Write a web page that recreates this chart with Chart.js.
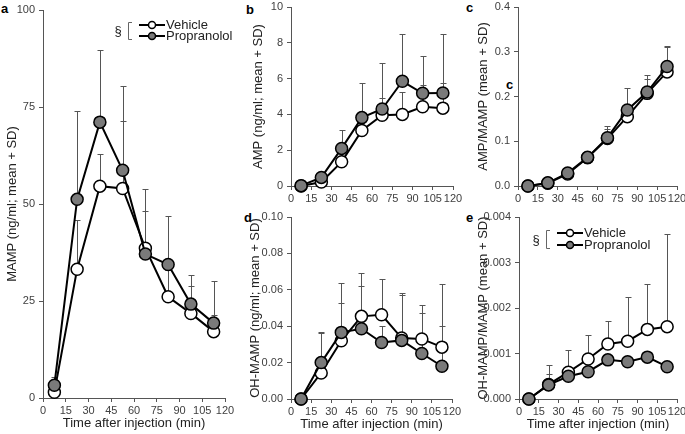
<!DOCTYPE html>
<html>
<head>
<meta charset="utf-8">
<script src="https://cdn.jsdelivr.net/npm/chart.js@4.4.0/dist/chart.umd.min.js"></script>
<style>
  html, body { margin: 0; padding: 0; background: #fff; }
  body { width: 685px; height: 434px; position: relative; overflow: hidden; font-family: "Liberation Sans", Arial, sans-serif; }
  canvas { position: absolute; }
  .letter { position: absolute; font-weight: bold; font-size: 13px; line-height: 13px; color: #000; }
</style>
</head>
<body>
<div class="letter" style="left:1px;top:2px">a</div>
<div class="letter" style="left:246px;top:3px">b</div>
<div class="letter" style="left:466px;top:1px">c</div>
<div class="letter" style="left:506px;top:78px">c</div>
<div class="letter" style="left:244px;top:211px">d</div>
<div class="letter" style="left:466px;top:211px">e</div>

<canvas id="chartA"></canvas>
<canvas id="chartB"></canvas>
<canvas id="chartC"></canvas>
<canvas id="chartD"></canvas>
<canvas id="chartE"></canvas>

<script>
(() => {
  'use strict'
  Chart.defaults.font.family = '"Liberation Sans", Arial, sans-serif';
  Chart.defaults.animation = false;

  // Sampling times (min), same for every panel
  const times = [7.5, 22.5, 37.5, 52.5, 67.5, 82.5, 97.5, 112.5];

  // a : MAMP (ng/ml) -- mean and mean + SD
  const mampVehicle = [1.5, 33.2, 54.6, 54.0, 38.6, 26.1, 21.8, 17.1];
  const mampVehicleUp = [2.5, 45.9, 63.0, 71.4, 48.2, 33.0, 28.8, 21.4];
  const mampProp = [3.3, 51.2, 71.1, 58.7, 37.1, 34.4, 24.2, 19.3];
  const mampPropUp = [5.4, 74.0, 89.6, 80.5, 53.8, 47.0, 31.8, 30.2];

  // b : AMP (ng/ml)
  const ampVehicle = [0, 0.22, 1.35, 3.1, 3.95, 4.0, 4.43, 4.35];
  const ampVehicleUp = [0, 0.3, 1.9, 3.9, 4.9, 5.25, 5.65, 5.75];
  const ampProp = [0.02, 0.48, 2.1, 3.82, 4.3, 5.85, 5.18, 5.2];
  const ampPropUp = [0.05, 0.6, 3.15, 5.78, 6.85, 8.5, 7.25, 8.5];

  // c : AMP/MAMP
  const ratioVehicle = [0, 0.006, 0.027, 0.063, 0.106, 0.155, 0.207, 0.255];
  const ratioVehicleUp = [0, 0.008, 0.031, 0.07, 0.128, 0.165, 0.24, 0.31];
  const ratioProp = [0, 0.007, 0.029, 0.064, 0.108, 0.17, 0.21, 0.267];
  const ratioPropUp = [0, 0.009, 0.033, 0.072, 0.133, 0.22, 0.248, 0.313];

  // d : OH-MAMP (ng/ml)
  const ohVehicle = [0, 0.0143, 0.032, 0.0454, 0.0463, 0.0335, 0.033, 0.0285];
  const ohVehicleUp = [0, 0.036, 0.053, 0.069, 0.066, 0.058, 0.0515, 0.063];
  const ohProp = [0, 0.02, 0.0366, 0.0386, 0.031, 0.0322, 0.025, 0.018];
  const ohPropUp = [0, 0.037, 0.064, 0.062, 0.04, 0.057, 0.047, 0.04];

  // e : OH-MAMP/MAMP
  const ohRatioVehicle = [0, 0.00032, 0.00059, 0.00088, 0.00121, 0.00127, 0.00153, 0.00159];
  const ohRatioVehicleUp = [0, 0.00075, 0.00108, 0.00141, 0.00172, 0.00224, 0.00253, 0.00363];
  const ohRatioProp = [0, 0.00031, 0.0005, 0.0006, 0.00086, 0.00082, 0.00092, 0.00071];
  const ohRatioPropUp = [0, 0.00055, 0.0006, 0.0007, 0.0009, 0.0009, 0.001, 0.0008];

  const xTitle = 'Time after injection (min)';
  const legendLabels = ['Vehicle', 'Propranolol'];
  const propFill = '#7a7a7a';

  // "mean + SD" bars, drawn under the lines
  const errorBars = {
    id: 'errorBars',
    beforeDatasetsDraw(chart) {
      const {ctx, scales: {x, y}} = chart;
      ctx.save();
      ctx.strokeStyle = '#555';
      ctx.lineWidth = 1;
      chart.data.datasets.forEach(ds => {
        ds.data.forEach((p, i) => {
          const top = ds.upper[i];
          if (top <= p.y) return;
          const px = Math.round(x.getPixelForValue(p.x)) + 0.5;
          const y1 = Math.round(y.getPixelForValue(top)) + 0.5;
          ctx.beginPath();
          ctx.moveTo(px, y.getPixelForValue(p.y));
          ctx.lineTo(px, y1);
          ctx.moveTo(px - 3, y1);
          ctx.lineTo(px + 3, y1);
          ctx.stroke();
        });
      });
      ctx.restore();
    }
  };

  // legend with the "§ [" significance bracket
  const sectionLegend = {
    id: 'sectionLegend',
    afterDraw(chart, args, opts) {
      if (!opts.show) return;
      const ctx = chart.ctx;
      const {x, y, gap} = opts;
      ctx.save();
      ctx.fillStyle = '#222';
      ctx.font = '13px "Liberation Sans", Arial, sans-serif';
      ctx.textBaseline = 'middle';
      ctx.textAlign = 'center';
      ctx.fillText('§', x - 21, y + gap / 2 + 1);
      ctx.strokeStyle = '#666';
      ctx.lineWidth = 1;
      ctx.beginPath();
      ctx.moveTo(x - 7, y - 2.5); ctx.lineTo(x - 10.5, y - 2.5);
      ctx.lineTo(x - 10.5, y + gap + 3.5); ctx.lineTo(x - 7, y + gap + 3.5);
      ctx.stroke();
      ctx.textAlign = 'left';
      legendLabels.forEach((lab, i) => {
        const ry = y + i * gap;
        ctx.strokeStyle = '#000';
        ctx.lineWidth = 2;
        ctx.beginPath();
        ctx.moveTo(x, ry); ctx.lineTo(x + 26, ry);
        ctx.stroke();
        ctx.beginPath();
        ctx.arc(x + 13, ry, 3.5, 0, Math.PI * 2);
        ctx.fillStyle = i === 0 ? '#fff' : propFill;
        ctx.fill();
        ctx.lineWidth = 1.5;
        ctx.stroke();
        ctx.fillStyle = '#222';
        ctx.fillText(lab, x + 27, ry + 0.5);
      });
      ctx.restore();
    }
  };

  const series = (label, vals, upper, fill, order) => ({
    label: label,
    data: times.map((t, i) => ({x: t, y: vals[i]})),
    upper: upper,
    order: order,
    borderColor: '#000',
    borderWidth: 2,
    pointRadius: 6,
    pointHoverRadius: 6,
    pointBackgroundColor: fill,
    pointBorderColor: '#000',
    pointBorderWidth: 1.5,
    tension: 0,
    fill: false,
    clip: false
  });

  const padL = 48, padT = 12, padR = 26, padB = 36;

  const createPanel = (id, area, p) => {
    const cv = document.getElementById(id);
    const left = area[0] - padL, top = area[1] - padT;
    cv.style.left = left + 'px';
    cv.style.top = top + 'px';
    cv.width = area[2] - area[0] + padL + padR;
    cv.height = area[3] - area[1] + padT + padB;
    const axisGrid = { drawOnChartArea: false, drawTicks: true, tickLength: 4, color: '#555' };
    const axisBorder = { color: '#555', width: 1 };
    new Chart(cv, {
      type: 'line',
      data: {
        datasets: [
          series(legendLabels[0], p.veh, p.vehUp, '#fff', 2),
          series(legendLabels[1], p.prop, p.propUp, propFill, 1)
        ]
      },
      plugins: [errorBars, sectionLegend],
      options: {
        responsive: false,
        layout: { padding: { left: 0, top: padT, right: padR, bottom: 0 } },
        scales: {
          x: {
            type: 'linear', min: 0, max: 120,
            afterFit: s => { s.height = padB; },
            ticks: { stepSize: 15, autoSkip: false, maxRotation: 0, padding: 2, color: '#404040', font: { size: 11 } },
            grid: axisGrid,
            border: axisBorder,
            title: { display: !!p.xTitle, text: xTitle, color: '#222', font: { size: 13 }, padding: { top: 0, bottom: 3 } }
          },
          y: {
            type: 'linear', min: 0, max: p.yMax,
            afterFit: s => { s.width = padL; },
            ticks: { stepSize: p.yStep, padding: 4, color: '#404040', font: { size: 11 },
              callback: v => v.toFixed(p.dec) },
            grid: axisGrid,
            border: axisBorder,
            title: { display: true, text: p.yTitle, color: '#222', font: { size: 13 },
              padding: { top: padL - p.titleGap - 7.8, bottom: 0 } }
          }
        },
        plugins: {
          legend: { display: false },
          tooltip: { enabled: false },
          sectionLegend: p.legend
            ? { show: true, x: p.legend[0] - left, y: p.legend[1] - top, gap: p.legend[2] }
            : { show: false }
        }
      }
    });
  };

  createPanel('chartA', [43, 10, 225, 398], {
    veh: mampVehicle, vehUp: mampVehicleUp, prop: mampProp, propUp: mampPropUp,
    yMax: 100, yStep: 25, dec: 0, yTitle: 'MAMP (ng/ml; mean + SD)', titleGap: 31, xTitle: true,
    legend: [139, 25, 11]
  });
  createPanel('chartB', [291, 7, 453, 186], {
    veh: ampVehicle, vehUp: ampVehicleUp, prop: ampProp, propUp: ampPropUp,
    yMax: 10, yStep: 2, dec: 0, yTitle: 'AMP (ng/ml; mean + SD)', titleGap: 33
  });
  createPanel('chartC', [518, 7, 677, 186], {
    veh: ratioVehicle, vehUp: ratioVehicleUp, prop: ratioProp, propUp: ratioPropUp,
    yMax: 0.4, yStep: 0.1, dec: 1, yTitle: 'AMP/MAMP (mean + SD)', titleGap: 35
  });
  createPanel('chartD', [291, 217, 452, 399], {
    veh: ohVehicle, vehUp: ohVehicleUp, prop: ohProp, propUp: ohPropUp,
    yMax: 0.1, yStep: 0.02, dec: 2, yTitle: 'OH-MAMP (ng/ml; mean + SD)', titleGap: 36, xTitle: true
  });
  createPanel('chartE', [519, 217, 677, 399], {
    veh: ohRatioVehicle, vehUp: ohRatioVehicleUp, prop: ohRatioProp, propUp: ohRatioPropUp,
    yMax: 0.004, yStep: 0.001, dec: 3, yTitle: 'OH-MAMP/MAMP (mean + SD)', titleGap: 36, xTitle: true,
    legend: [557, 233, 12]
  });
})();
</script>
</body>
</html>
